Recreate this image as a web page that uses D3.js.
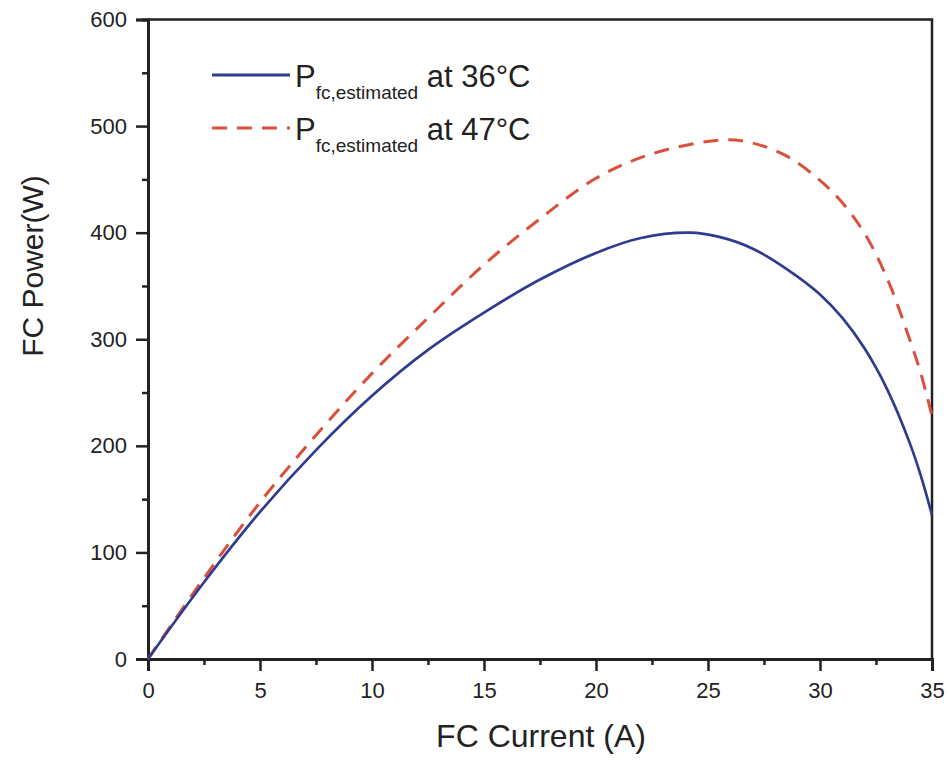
<!DOCTYPE html>
<html>
<head>
<meta charset="utf-8">
<script src="https://cdn.jsdelivr.net/npm/d3@7"></script>
<style>
  body { margin: 0; background: #fff; }
  text { font-family: "Liberation Sans", Arial, sans-serif; fill: #222; }
</style>
</head>
<body>
<svg id="chart" width="949" height="760"></svg>
<script>
// FC current (A) and estimated power (W) at 36°C
const current36 = [0, 2.5, 5, 7.5, 10, 12.5, 15, 17.5, 20, 22, 24.2, 25.5, 27, 28.5, 30, 31, 32, 33, 34, 34.5, 35];
const power36   = [0, 72, 138, 196, 247, 290, 325, 356, 381, 395, 400, 396, 385, 366, 342, 320, 291, 253, 203, 172, 135];

// FC current (A) and estimated power (W) at 47°C
const current47 = [0, 2.5, 5, 7.5, 10, 12.5, 15, 17.5, 20, 22.5, 25.7, 27, 28.5, 30, 31, 32, 33, 34, 34.5, 35];
const power47   = [0, 76, 147, 210, 268, 320, 370, 413, 451, 474, 487, 484, 472, 449, 428, 399, 357, 300, 268, 228];

const xTicks = [0, 5, 10, 15, 20, 25, 30, 35];
const yTicks = [0, 100, 200, 300, 400, 500, 600];

const margin = { left: 148, right: 17, top: 19.5, bottom: 101 };
const width = 949, height = 760;

const svg = d3.select('#chart');

const x = d3.scaleLinear().domain([0, 35]).range([margin.left, width - margin.right]);
const y = d3.scaleLinear().domain([0, 600]).range([height - margin.bottom, margin.top]);

const ink = '#222';
const tickFont = 22;

// frame (top and right)
svg.append('path')
    .attr('d', `M${x(0)},${y(600)}H${x(35)}V${y(0)}`)
    .attr('fill', 'none')
    .attr('stroke', ink)
    .attr('stroke-width', 2.5);

// x axis
const xAxis = svg.append('g').attr('transform', `translate(0,${y(0)})`);
xAxis.append('g').call(d3.axisBottom(x).tickValues(d3.range(2.5, 35, 5)).tickSize(6).tickFormat(''));
xAxis.append('g').call(d3.axisBottom(x).tickValues(xTicks).tickSize(12).tickPadding(11).tickFormat(d3.format('d')));

// y axis
const yAxis = svg.append('g').attr('transform', `translate(${x(0)},0)`);
yAxis.append('g').call(d3.axisLeft(y).tickValues(d3.range(50, 600, 100)).tickSize(6).tickFormat(''));
yAxis.append('g').call(d3.axisLeft(y).tickValues(yTicks).tickSize(12).tickPadding(9).tickFormat(d3.format('d')));

[xAxis, yAxis].forEach(ax => {
    ax.selectAll('.domain').attr('stroke', ink).attr('stroke-width', 3);
    ax.selectAll('line').attr('stroke', ink).attr('stroke-width', 2.5);
    ax.selectAll('text')
        .attr('font-size', tickFont)
        .style('font-size', tickFont + 'px')
        .style('font-family', '"Liberation Sans", Arial, sans-serif')
        .attr('fill', ink);
});

// axis titles
svg.append('text')
    .attr('x', 541)
    .attr('y', 747)
    .attr('text-anchor', 'middle')
    .attr('font-size', 32)
    .text('FC Current (A)');

svg.append('text')
    .attr('transform', 'translate(43,266) rotate(-90)')
    .attr('text-anchor', 'middle')
    .attr('font-size', 30)
    .text('FC Power(W)');

// curves
const line = d3.line()
    .x(d => x(d[0]))
    .y(d => y(d[1]))
    .curve(d3.curveCatmullRom.alpha(0.5));

const blue = '#2e3c8f', red = '#d9503c';

svg.append('path')
    .datum(d3.zip(current47, power47))
    .attr('d', line)
    .attr('fill', 'none')
    .attr('stroke', red)
    .attr('stroke-width', 3)
    .attr('stroke-dasharray', '15,10');

svg.append('path')
    .datum(d3.zip(current36, power36))
    .attr('d', line)
    .attr('fill', 'none')
    .attr('stroke', blue)
    .attr('stroke-width', 2.7);

// legend
const legendItems = [
    { temp: '36°C', color: blue, dash: null, y: 75 },
    { temp: '47°C', color: red, dash: '15,10', y: 128 }
];
legendItems.forEach(item => {
    svg.append('line')
        .attr('x1', 212).attr('x2', 290)
        .attr('y1', item.y).attr('y2', item.y)
        .attr('stroke', item.color)
        .attr('stroke-width', 3)
        .attr('stroke-dasharray', item.dash);
    const t = svg.append('text')
        .attr('x', 295)
        .attr('y', item.y + 12)
        .attr('font-size', 31);
    t.append('tspan').text('P');
    t.append('tspan').attr('font-size', 19).attr('dy', 12).text('fc,estimated');
    t.append('tspan').attr('dy', -12).text(' at ' + item.temp);
});
</script>
</body>
</html>
